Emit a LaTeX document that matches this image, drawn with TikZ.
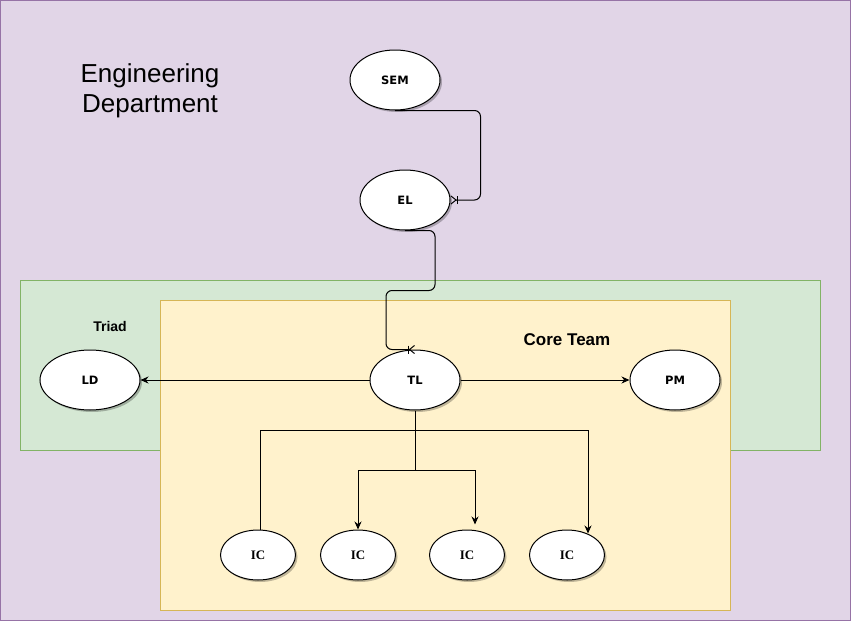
\documentclass[tikz,border=0pt]{standalone}
\usepackage{fontspec}
\setmainfont{Liberation Sans}
\newfontfamily\labelfont{DejaVu Sans}
\newfontfamily\icfont{Liberation Serif}
\usepackage{tikz}
\usetikzlibrary{arrows.meta, positioning, shapes.geometric, shadows}
\definecolor{dept_fill}{HTML}{E1D5E7}
\definecolor{dept_line}{HTML}{9673A6}
\definecolor{triad_fill}{HTML}{D5E8D4}
\definecolor{triad_line}{HTML}{82B366}
\definecolor{core_fill}{HTML}{FFF2CC}
\definecolor{core_line}{HTML}{D6B656}

\begin{document}
\begin{tikzpicture}[
	x=1pt, y=-1pt,
	role/.style = {draw, ellipse, fill=white, line width=1pt, minimum width=90pt, minimum height=60pt, inner sep=0pt, font=\labelfont\bfseries\fontsize{11.5}{13}\selectfont, drop shadow={shadow xshift=2pt, shadow yshift=-2pt, fill=black, opacity=0.25}},
	icvertex/.style = {role, minimum width=75pt, minimum height=50pt, font=\icfont\bfseries\fontsize{13}{15}\selectfont},
	link/.style = {line width=1pt, -{Stealth[length=8pt, width=7pt]}},
	erlink/.style = {line width=1pt, rounded corners=6pt, -{Bar[width=8pt] Straight Barb[reversed, length=5pt, width=8pt]}},
]
\useasboundingbox (0,0) rectangle (851,621);

% Boxes
\draw[dept_line, fill=dept_fill] (0.5,0.5) rectangle (850.5,620.5);
\draw[triad_line, fill=triad_fill] (20,280) rectangle (820,450);
\draw[core_line, fill=core_fill] (160,300) rectangle (730,610);
\node[align=center, font=\fontsize{26}{30}\selectfont] (dept) at (150,91) {Engineering\\Department};
\node[font=\bfseries\fontsize{14}{16}\selectfont] (triad) at (110,326) {Triad};
\node[font=\bfseries\fontsize{17}{19}\selectfont] (core) at (567,340) {Core Team};

% Define vertices
\node[role] (TL) at (415,380) {TL};
\node[role, minimum width=100pt, left of=TL, node distance=325pt] (LD) {LD};
\node[role, right of=TL, node distance=260pt] (PM) {PM};
\node[role, above of=TL, node distance=180pt, xshift=-10pt] (EL) {EL};
\node[role, above of=EL, node distance=120pt, xshift=-10pt] (SEM) {SEM};
\node[icvertex] (IC1) at (258,555) {IC};
\node[icvertex, right of=IC1, node distance=100pt] (IC2) {IC};
\node[icvertex, right of=IC2, node distance=109pt] (IC3) {IC};
\node[icvertex, right of=IC3, node distance=100pt] (IC4) {IC};

% Draw edges
\draw[erlink] (SEM.south) -| ([xshift=30pt]EL.east) -- (EL.east);
\draw[erlink] (EL.south) -| ++(30,60) -| ([xshift=-29pt]TL.north) -- (TL.north);
\draw[link] (TL.west) -- (LD.east);
\draw[link] (TL.east) -- (PM.west);
\coordinate (split) at ([yshift=-20pt]TL.south);
\coordinate (split2) at ([yshift=-60pt]TL.south);
\draw[line width=1pt] (TL.south) -- (split2);
\draw[line width=1pt] (split) -| ([xshift=2pt]IC1.north);
\draw[link] (split) -| ([shift={(21pt,-4pt)}]IC4.north);
\draw[link] (split2) -| (IC2.north);
\draw[link] (split2) -| ([shift={(8pt,5pt)}]IC3.north);
\end{tikzpicture}
\end{document}
